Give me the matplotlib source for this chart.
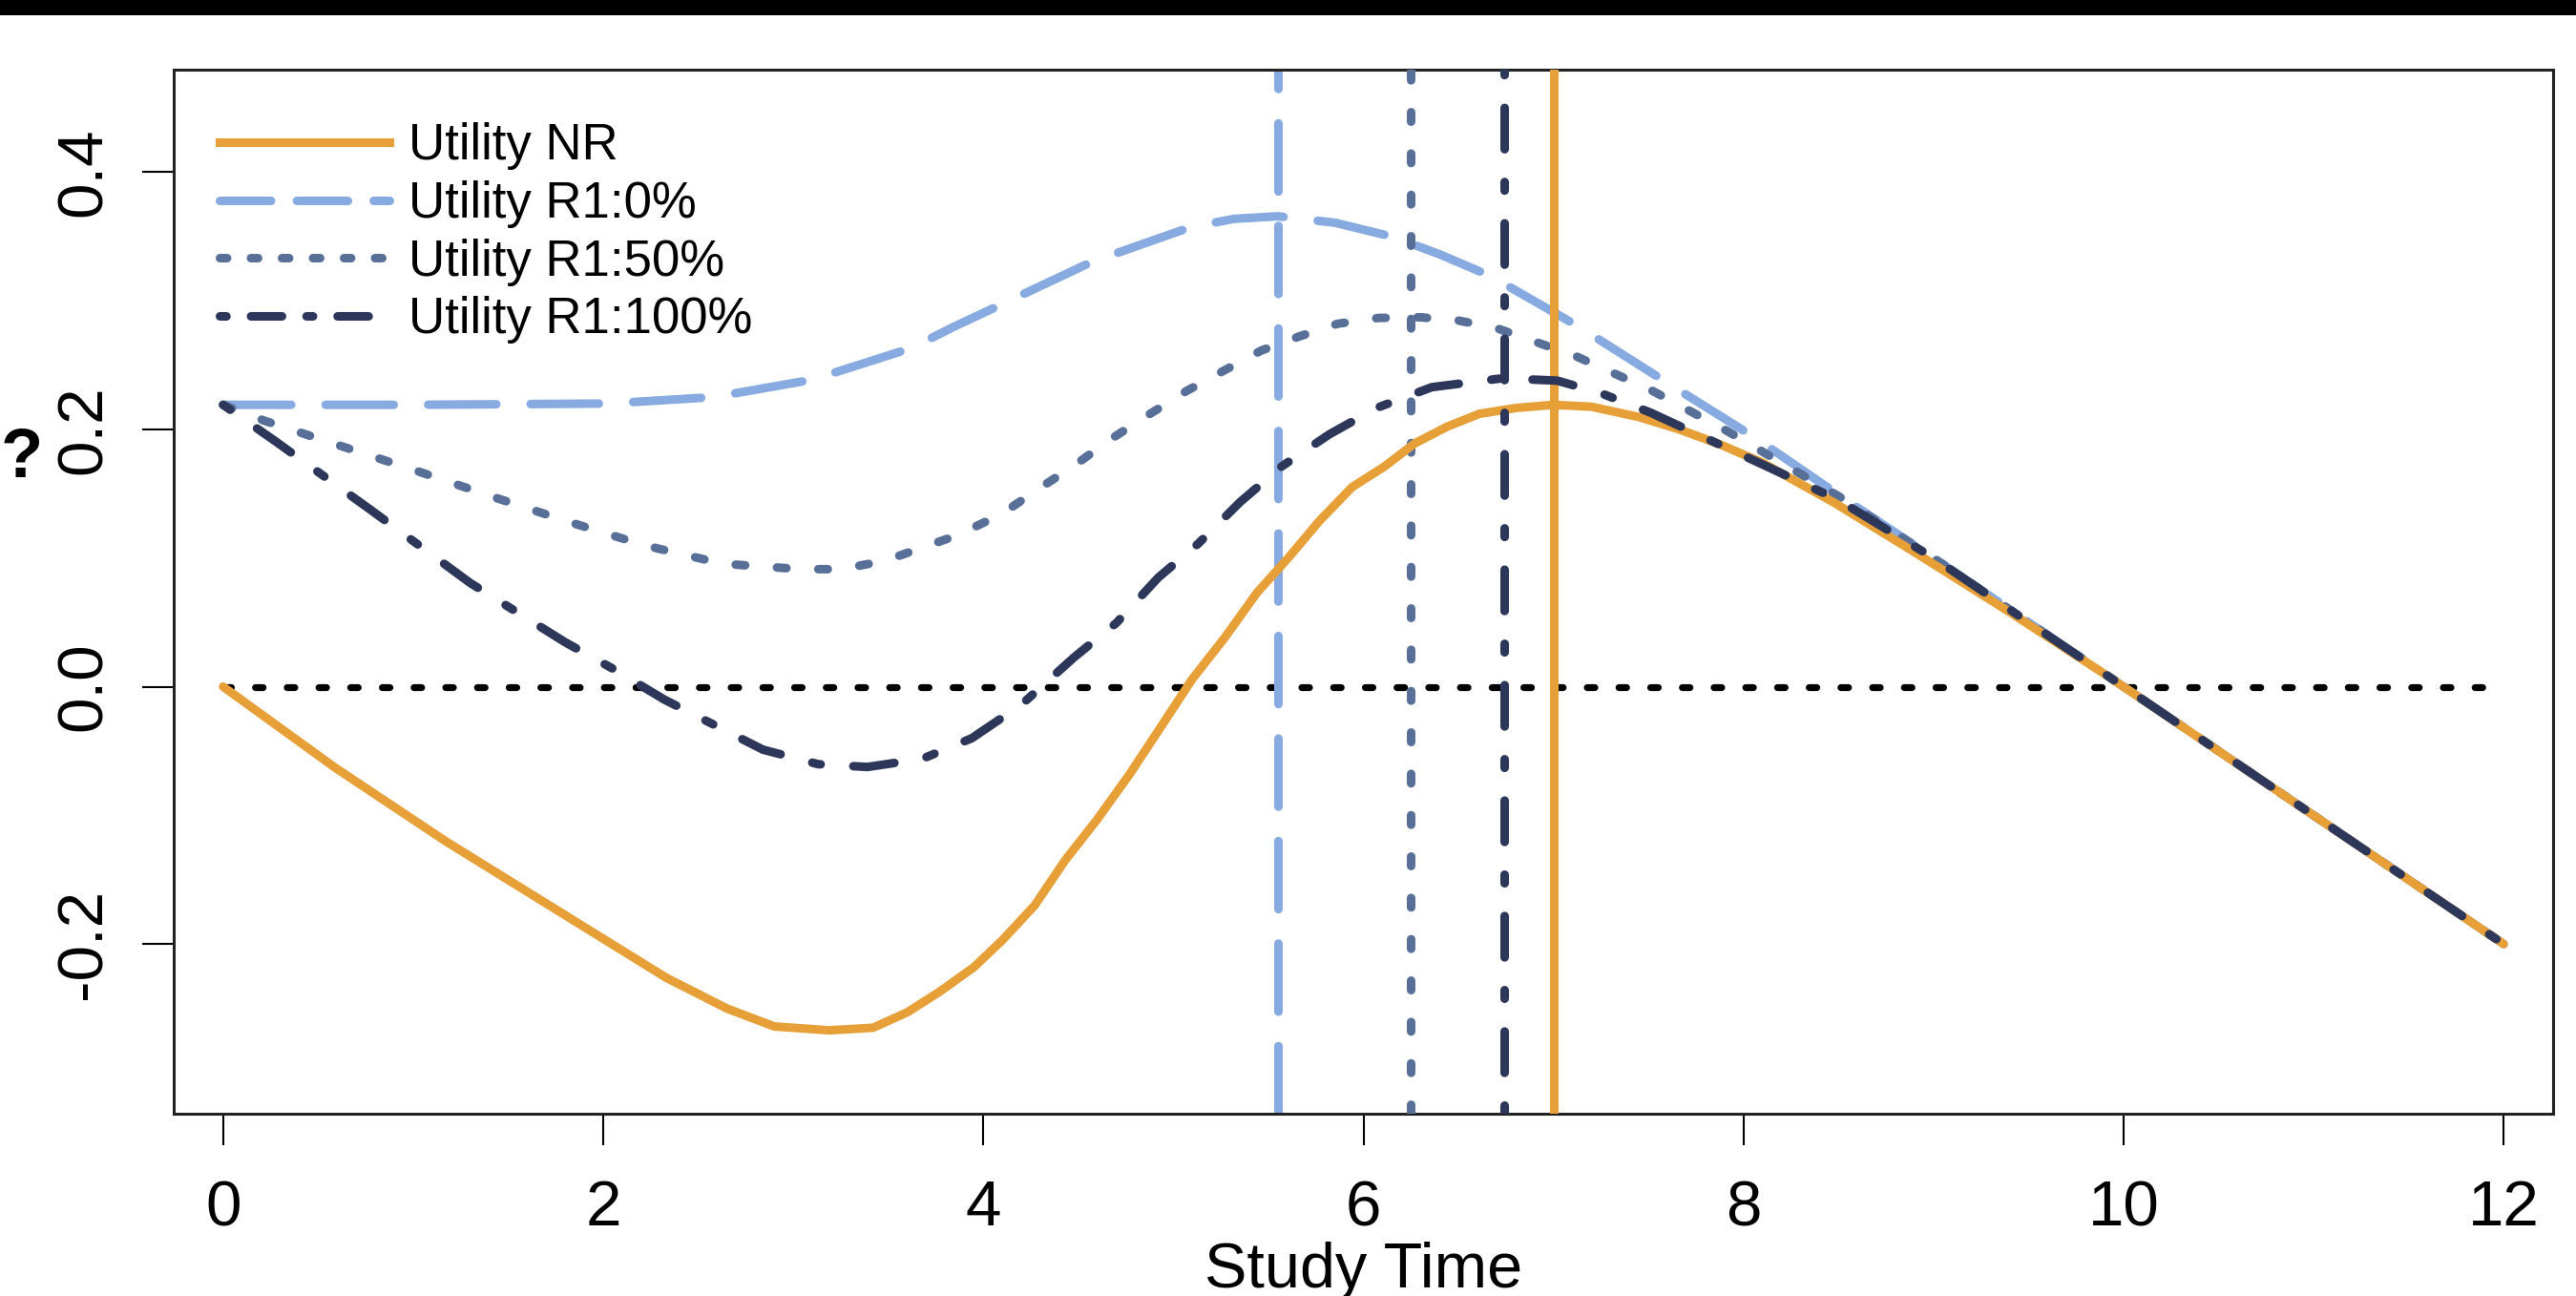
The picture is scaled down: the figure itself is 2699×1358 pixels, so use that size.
import matplotlib.pyplot as plt
from matplotlib.lines import Line2D
from matplotlib.patches import Rectangle

plt.rcParams['font.family'] = ['Liberation Sans', 'DejaVu Sans']

# Utility curves
t_nr = [0, 0.59, 1.17, 1.75, 2.33, 2.65, 2.90, 3.19, 3.42, 3.60, 3.77, 3.95, 4.10, 4.27,
        4.43, 4.60, 4.77, 4.94, 5.10, 5.27, 5.44, 5.61, 5.77, 5.94, 6.11, 6.27, 6.44,
        6.61, 6.80, 7.0, 7.2, 7.45, 7.66, 7.88, 8.1, 8.48, 8.91, 9.4, 9.92, 12]
u_nr = [0, -0.063, -0.12, -0.173, -0.226, -0.25, -0.264, -0.267, -0.265, -0.253, -0.237,
        -0.218, -0.197, -0.170, -0.135, -0.103, -0.068, -0.030, 0.006, 0.038, 0.073,
        0.101, 0.129, 0.155, 0.171, 0.189, 0.202, 0.212, 0.2165, 0.219, 0.2175, 0.2095,
        0.200, 0.188, 0.174, 0.1427, 0.1036, 0.058, 0.0079, -0.2]

t_r0 = [0, 1.0, 2.03, 2.58, 3.10, 3.62, 3.85, 4.11, 4.57, 5.09, 5.32, 5.55, 5.85, 6.15,
        6.40, 6.67, 7.13, 7.60, 8.06, 8.51, 9.0, 9.92, 12]
u_r0 = [0.219, 0.219, 0.220, 0.225, 0.2385, 0.263, 0.280, 0.298, 0.330, 0.357, 0.3635,
        0.3655, 0.3605, 0.3497, 0.336, 0.319, 0.280, 0.236, 0.1935, 0.148, 0.1, 0.008, -0.2]

t_r50 = [0, 0.22, 0.62, 1.02, 1.43, 1.82, 2.22, 2.63, 3.04, 3.25, 3.48, 3.87, 4.10, 4.29,
         4.48, 4.68, 4.87, 5.07, 5.27, 5.46, 5.66, 5.865, 6.08, 6.30, 6.50, 6.70, 7.11,
         7.51, 7.91, 8.5, 9.0, 9.92, 12]
u_r50 = [0.219, 0.2065, 0.187, 0.1676, 0.147, 0.128, 0.1097, 0.0955, 0.0913, 0.0913,
         0.0977, 0.118, 0.1345, 0.1536, 0.172, 0.1932, 0.2113, 0.2298, 0.2459, 0.261,
         0.272, 0.282, 0.2865, 0.287, 0.2845, 0.2786, 0.2573, 0.2307, 0.199, 0.148, 0.1,
         0.008, -0.2]

t_r100 = [0, 0.276, 0.78, 1.30, 1.80, 2.06, 2.32, 2.84, 3.13, 3.39, 3.68, 3.94, 4.20,
          4.48, 4.70, 4.92, 5.13, 5.35, 5.57, 5.82, 6.07, 6.36, 6.73, 7.02, 7.25, 7.51,
          8.11, 8.5, 9.0, 9.92, 12]
u_r100 = [0.219, 0.1906, 0.137, 0.0806, 0.0345, 0.0132, -0.0099, -0.0489, -0.0602,
          -0.0624, -0.056, -0.040, -0.014, 0.0231, 0.0495, 0.0847, 0.111, 0.1433, 0.1711,
          0.196, 0.2166, 0.2327, 0.2396, 0.2378, 0.228, 0.213, 0.172, 0.145, 0.1, 0.008,
          -0.2]

# time of maximum utility for each curve (vertical lines)
peak_nr, peak_r0, peak_r50, peak_r100 = 7.0, 5.55, 6.25, 6.74

labels = ['Utility NR', 'Utility R1:0%', 'Utility R1:50%', 'Utility R1:100%']
xticks = [0, 2, 4, 6, 8, 10, 12]
yticks = [-0.2, 0.0, 0.2, 0.4]

c_nr, c_r0, c_r50, c_r100 = '#E6A037', '#87AAE1', '#587098', '#2D375A'
ls_nr = '-'
ls_r0 = (0, (7.9, 4.0))
ls_r50 = (0, (1.1, 3.7))
ls_r100 = (0, (1.0, 3.8, 4.8, 3.8))
lw = 6.5

fig = plt.figure(figsize=(26.99, 13.58), dpi=100)
ax = fig.add_axes([182 / 2699, 1 - 1167 / 1358, (2675 - 182) / 2699, 1094 / 1358])

# zero reference
ax.plot([0, 12], [0, 0], color='black', lw=5.2, linestyle=(0, (1.1, 3.5)),
        dash_capstyle='round', zorder=1.5)

# drawing order as in the original: R1:0%, R1:50%, NR, R1:100%, each with its vertical
order = [
    (t_r0, u_r0, peak_r0, c_r0, ls_r0),
    (t_r50, u_r50, peak_r50, c_r50, ls_r50),
    (t_nr, u_nr, peak_nr, c_nr, ls_nr),
    (t_r100, u_r100, peak_r100, c_r100, ls_r100),
]
z = 2
for t, u, pk, col, ls in order:
    ax.plot(t, u, color=col, lw=lw, linestyle=ls, dash_capstyle='round',
            solid_capstyle='round', solid_joinstyle='round', zorder=z)
    ax.axvline(pk, color=col, lw=lw, linestyle=ls, dash_capstyle='round', zorder=z + 0.5)
    z += 1

ax.set_xlim(-0.26, 12.26)
ax.set_ylim(-0.3318, 0.4794)

ax.set_xticks(xticks)
ax.set_xticklabels([str(v) for v in xticks], fontsize=48.5)
ax.set_yticks(yticks)
ax.set_yticklabels(['%.1f' % v for v in yticks], fontsize=48.5, rotation=90, va='center')
ax.tick_params(axis='x', length=24, width=1.5, pad=26)
ax.tick_params(axis='y', length=24, width=1.5, pad=21)
for sp in ax.spines.values():
    sp.set_linewidth(2.2)
    sp.set_color('#222222')

ax.set_xlabel('Study Time', fontsize=48, labelpad=2)

# legend with slightly tighter dash patterns, as R draws them
def scaled(ls, f=0.75):
    if isinstance(ls, str):
        return ls
    return (0, tuple(v * f for v in ls[1]))

handles = [Line2D([], [], color=c, lw=lw, linestyle=scaled(ls), dash_capstyle='round')
           for c, ls in [(c_nr, ls_nr), (c_r0, ls_r0), (c_r50, ls_r50), (c_r100, ls_r100)]]
ax.legend(handles, labels, loc='upper left', bbox_to_anchor=(0.0193, 0.9493),
          frameon=False, fontsize=38, handlelength=3.37, handletextpad=0.38,
          labelspacing=0.2, borderpad=0, borderaxespad=0)

# top black band and the cut-off character from the source document
fig.patches.append(Rectangle((0, 1 - 16 / 1358), 1, 16 / 1358, transform=fig.transFigure,
                             facecolor='black', edgecolor='none'))
fig.text(1 / 2699, 1 - 500 / 1358, '?', fontsize=52, fontweight='bold',
         family=['Liberation Sans Narrow', 'Liberation Sans'], ha='left', va='baseline')

plt.savefig('out.png', dpi=100)
